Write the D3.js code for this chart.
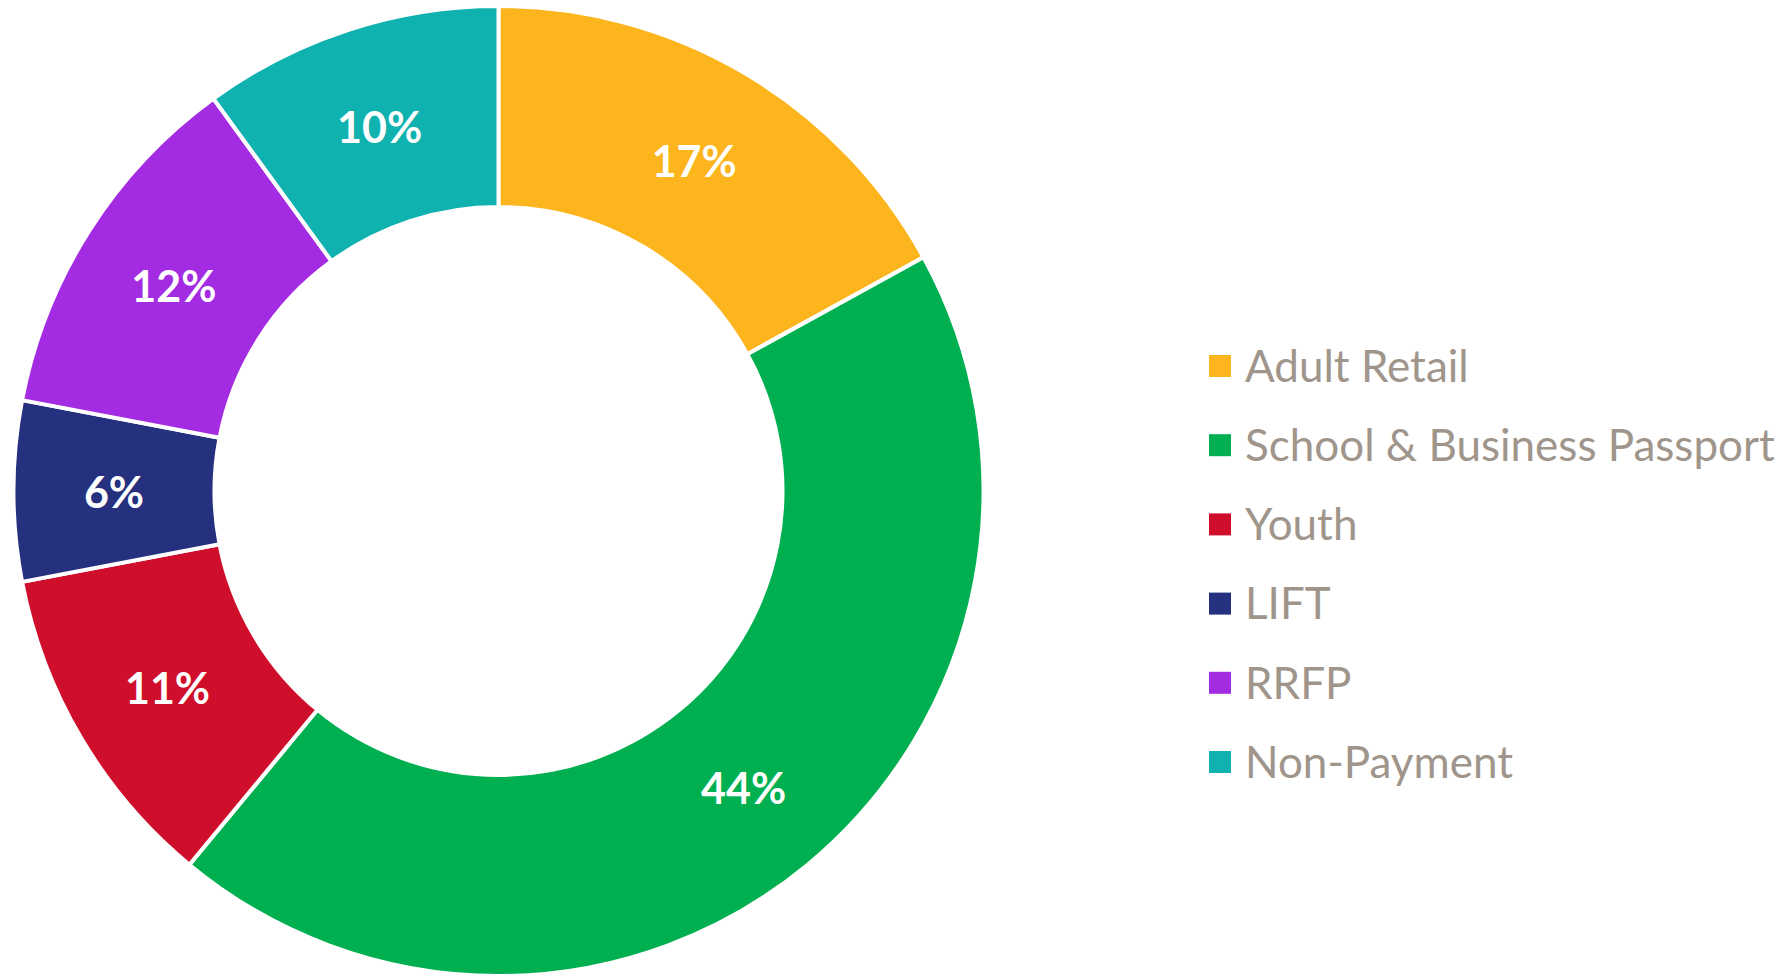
<!DOCTYPE html>
<html><head><meta charset="utf-8">
<script src="https://cdn.jsdelivr.net/npm/d3@7"></script>
<style>html,body{margin:0;padding:0;background:#fff;}svg{display:block;}</style>
</head><body>
<svg id="chart" width="1788" height="975"></svg>
<script>
const categories = ["Adult Retail","School & Business Passport","Youth","LIFT","RRFP","Non-Payment"];
const values = [17,44,11,6,12,10];
const colors = ["#FDB51D","#00AF50","#CF0E2C","#25307F","#A32CE3","#0FB2AE"];

const svg = d3.select("#chart");
const cx = 498.5, cy = 491, rOuter = 485, rInner = 284;
const pie = d3.pie().sort(null).value(d => d.v);
const data = categories.map((c,i)=>({c, v: values[i], col: colors[i]}));
const arcs = pie(data);
const arc = d3.arc().innerRadius(rInner).outerRadius(rOuter);
const g = svg.append("g").attr("transform", `translate(${cx},${cy})`);
g.selectAll("path").data(arcs).join("path")
  .attr("d", arc).attr("fill", d => d.data.col)
  .attr("stroke", "#fff").attr("stroke-width", 4).attr("stroke-linejoin","round");
g.selectAll("text").data(arcs).join("text")
  .attr("transform", d => `translate(${arc.centroid(d)})`)
  .attr("text-anchor","middle").attr("dy","0.4em")
  .attr("font-family","Lato, 'Open Sans', sans-serif").attr("font-weight",700)
  .attr("font-size", 43).attr("fill","#fff")
  .text(d => d.data.v + "%");

const legend = svg.append("g");
const rowY = d3.scalePoint().domain(categories).range([366, 762]);
const items = legend.selectAll("g").data(data).join("g")
  .attr("transform", d => `translate(1209,${rowY(d.c)})`);
items.append("rect").attr("x",0).attr("y",-11).attr("width",22).attr("height",22).attr("fill", d=>d.col);
items.append("text").attr("x",36).attr("dy","0.36em")
  .attr("font-family","Lato, 'Open Sans', sans-serif").attr("font-size",44).attr("fill","#A0958B")
  .text(d=>d.c);
</script>
</body></html>
